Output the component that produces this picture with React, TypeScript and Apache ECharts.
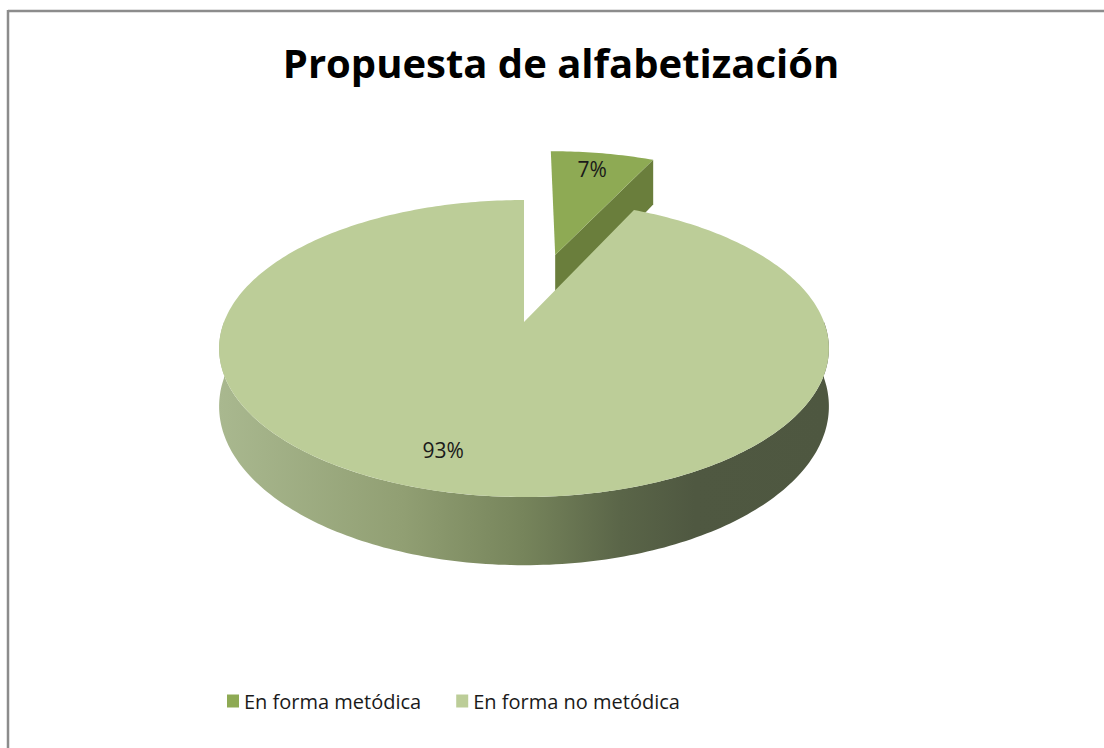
import React, { useEffect, useRef } from "react";
import * as echarts from "echarts";

// ---- data ----
const TITLE = "Propuesta de alfabetización";
const categories = ["En forma metódica", "En forma no metódica"];
const values = [7, 93];
const labels = ["7%", "93%"];

// ---- styles ----
const topColors = ["#8eaa54", "#bccd98"];
const cutColors = ["#6a7e3c", "#6a7a4e"];
const explode = [0.52, 0];
const labelShift = [-2, -20];
const FONT = "'Open Sans', 'Noto Sans', sans-serif";

// ---- perspective projection of the pie plane ----
const CX = 524;
const P0 = 322;
const Q = 86.3;
const K = -0.1785;
const A = 300;
const D = 56;

function proj(u: number, v: number, h: number): number[] {
  const den = 1 + K * v;
  return [CX + (A * u) / den, (P0 + Q * v + D * h) / den];
}

function makeRenderItem(i: number) {
  return function renderItem(params: any, api: any) {
    const total = values.reduce((s, x) => s + x, 0);
    let start = 0;
    for (let j = 0; j < i; j++) start += values[j];
    const val = api.value(0);
    const a0 = (start / total) * 360;
    const a1 = ((start + val) / total) * 360;
    const midDeg = (a0 + a1) / 2;
    const mid = (midDeg * Math.PI) / 180;
    const ex = explode[i] * Math.sin(mid);
    const ey = -explode[i] * Math.cos(mid);
    const pt = (deg: number, r: number, h: number) => {
      const t = (deg * Math.PI) / 180;
      return proj(ex + r * Math.sin(t), ey - r * Math.cos(t), h);
    };
    const arc = (from: number, to: number, h: number) => {
      const pts: number[][] = [];
      const n = Math.max(2, Math.ceil(to - from));
      for (let s = 0; s <= n; s++) pts.push(pt(from + ((to - from) * s) / n, 1, h));
      return pts;
    };
    const children: any[] = [];

    // outer wall (front half only)
    const w0 = Math.max(a0, 90);
    const w1 = Math.min(a1, 270);
    if (w1 > w0) {
      children.push({
        type: "polygon",
        shape: { points: [...arc(w0, w1, 0), ...arc(w0, w1, 1).reverse()] },
        style: {
          fill: new echarts.graphic.LinearGradient(0, 0, 1, 0, [
            { offset: 0, color: "#a9b88f" },
            { offset: 0.3, color: "#919f73" },
            { offset: 0.5, color: "#76845b" },
            { offset: 0.66, color: "#5a6548" },
            { offset: 0.78, color: "#4f5841" },
            { offset: 1, color: "#4e5740" },
          ]),
        },
      });
    }

    // radial cut faces visible to the viewer
    const apexT = proj(ex, ey, 0);
    const apexB = proj(ex, ey, 1);
    const radA1 = (a1 * Math.PI) / 180;
    const radA0 = (a0 * Math.PI) / 180;
    if (Math.sin(radA1) > 1e-6) {
      children.push({
        type: "polygon",
        shape: { points: [apexT, pt(a1, 1, 0), pt(a1, 1, 1), apexB] },
        style: { fill: cutColors[i] },
      });
    }
    if (Math.sin(radA0) < -1e-6) {
      children.push({
        type: "polygon",
        shape: { points: [apexT, pt(a0, 1, 0), pt(a0, 1, 1), apexB] },
        style: { fill: cutColors[i] },
      });
    }

    // top face
    children.push({
      type: "polygon",
      shape: { points: [apexT, ...arc(a0, a1, 0)] },
      style: { fill: topColors[i] },
    });

    // data label
    const lp = pt(midDeg, 0.8, 0);
    children.push({
      type: "text",
      x: lp[0] + labelShift[i],
      y: lp[1] - 2,
      style: {
        text: labels[i],
        fill: "#1a1a1a",
        fontSize: 21,
        fontFamily: FONT,
        align: "center",
        verticalAlign: "middle",
        textAlign: "center",
        textVerticalAlign: "middle",
      },
    });

    return { type: "group", children };
  };
}

export default function App() {
  const ref = useRef<HTMLDivElement>(null);

  useEffect(() => {
    document.body.style.margin = "0";
    document.body.style.overflow = "hidden";
    if (!ref.current) return;
    const chart = echarts.init(ref.current, null, { renderer: "svg" });
    chart.setOption({
      animation: false,
      backgroundColor: "#ffffff",
      legend: {
        left: 222,
        top: 686,
        itemWidth: 12,
        itemHeight: 13,
        itemGap: 35,
        icon: "rect",
        data: categories.map((c) => ({ name: c, icon: "rect" })),
        textStyle: { fontFamily: FONT, fontSize: 20, color: "#1a1a1a", lineHeight: 20 },
        selectedMode: false,
      },
      graphic: [
        {
          type: "line",
          silent: true,
          z: -10,
          shape: { x1: 8, y1: 11, x2: 1110, y2: 11 },
          style: { stroke: "#8c8c8c", lineWidth: 2.5 },
        },
        {
          type: "line",
          silent: true,
          z: -10,
          shape: { x1: 8, y1: 10, x2: 8, y2: 760 },
          style: { stroke: "#8c8c8c", lineWidth: 2.5 },
        },
        {
          type: "text",
          x: 561,
          y: 62,
          silent: true,
          style: {
            text: TITLE,
            fill: "#000000",
            fontFamily: FONT,
            fontWeight: "bold",
            fontSize: 40,
            align: "center",
            verticalAlign: "middle",
            textAlign: "center",
            textVerticalAlign: "middle",
          },
        },
      ],
      series: categories.map((name, i) => ({
        type: "custom",
        name,
        coordinateSystem: "none",
        itemStyle: { color: topColors[i] },
        renderItem: makeRenderItem(i),
        data: [[values[i]]],
      })),
    });
    return () => chart.dispose();
  }, []);

  return <div ref={ref} style={{ width: 1104, height: 748 }} />;
}
